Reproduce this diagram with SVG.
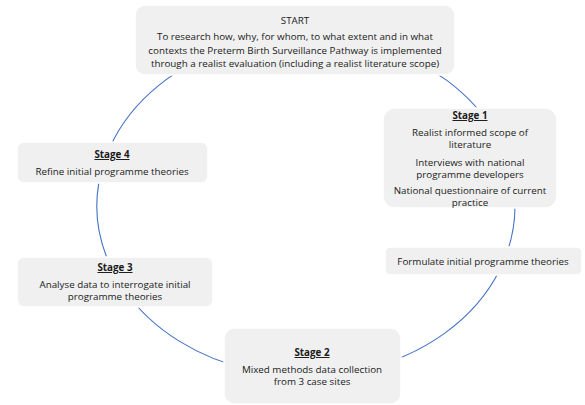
<svg xmlns="http://www.w3.org/2000/svg" width="585" height="405" viewBox="0 0 585 405">
<style>
.box{fill:#f0f0f0;stroke:#ffffff;stroke-width:1.5}
.con{fill:none;stroke:#4472c4;stroke-width:1.1}
text{font-family:"Open Sans","Liberation Sans",sans-serif;font-size:9.8px;fill:#1a1a1a;text-anchor:middle}
.h{font-weight:bold;text-decoration:underline}
</style>
<rect width="585" height="405" fill="#ffffff"/>
<g id="connectors">
<path class="con" d="M377.5,46.2 A209,170 0 0 1 495.4,134"/>
<path class="con" d="M514.2,191.2 A209,170 0 0 1 502.4,264.1"/>
<path class="con" d="M499.8,269.7 A209,170 0 0 1 360.1,370.2"/>
<path class="con" d="M251.9,370.2 A209,170 0 0 1 125,291"/>
<path class="con" d="M109.6,264.1 A209,170 0 0 1 104.1,162"/>
<path class="con" d="M109.6,147.9 A209,170 0 0 1 234.5,46.3"/>
</g>
<g id="start">
<rect class="box" x="135" y="5" width="320" height="70" rx="10"/>
<text x="295" y="24">START</text>
<text x="295" y="40">To research how, why, for whom, to what extent and in what</text>
<text x="295" y="53.5">contexts the Preterm Birth Surveillance Pathway is implemented</text>
<text x="295" y="67">through a realist evaluation (including a realist literature scope)</text>
</g>
<g id="stage1">
<rect class="box" x="383" y="108" width="174" height="100" rx="12"/>
<text class="h" x="470" y="119">Stage 1</text>
<text x="470" y="135.5">Realist informed scope of</text>
<text x="470" y="147.5">literature</text>
<text x="470" y="165.5">Interviews with national</text>
<text x="470" y="177.5">programme developers</text>
<text x="470" y="193.5">National questionnaire of current</text>
<text x="470" y="205.5">practice</text>
</g>
<g id="formulate">
<rect class="box" x="385" y="247" width="197" height="28" rx="5"/>
<text x="483" y="265">Formulate initial programme theories</text>
</g>
<g id="stage2">
<rect class="box" x="224" y="328" width="177" height="76" rx="10"/>
<text class="h" x="312" y="356">Stage 2</text>
<text x="312" y="373">Mixed methods data collection</text>
<text x="312" y="385">from 3 case sites</text>
</g>
<g id="stage3">
<rect class="box" x="17" y="257" width="196" height="50" rx="7"/>
<text class="h" x="115" y="271">Stage 3</text>
<text x="115" y="288">Analyse data to interrogate initial</text>
<text x="115" y="300">programme theories</text>
</g>
<g id="stage4">
<rect class="box" x="17" y="142" width="191" height="41" rx="7"/>
<text class="h" x="112" y="158">Stage 4</text>
<text x="112" y="175">Refine initial programme theories</text>
</g>
</svg>
